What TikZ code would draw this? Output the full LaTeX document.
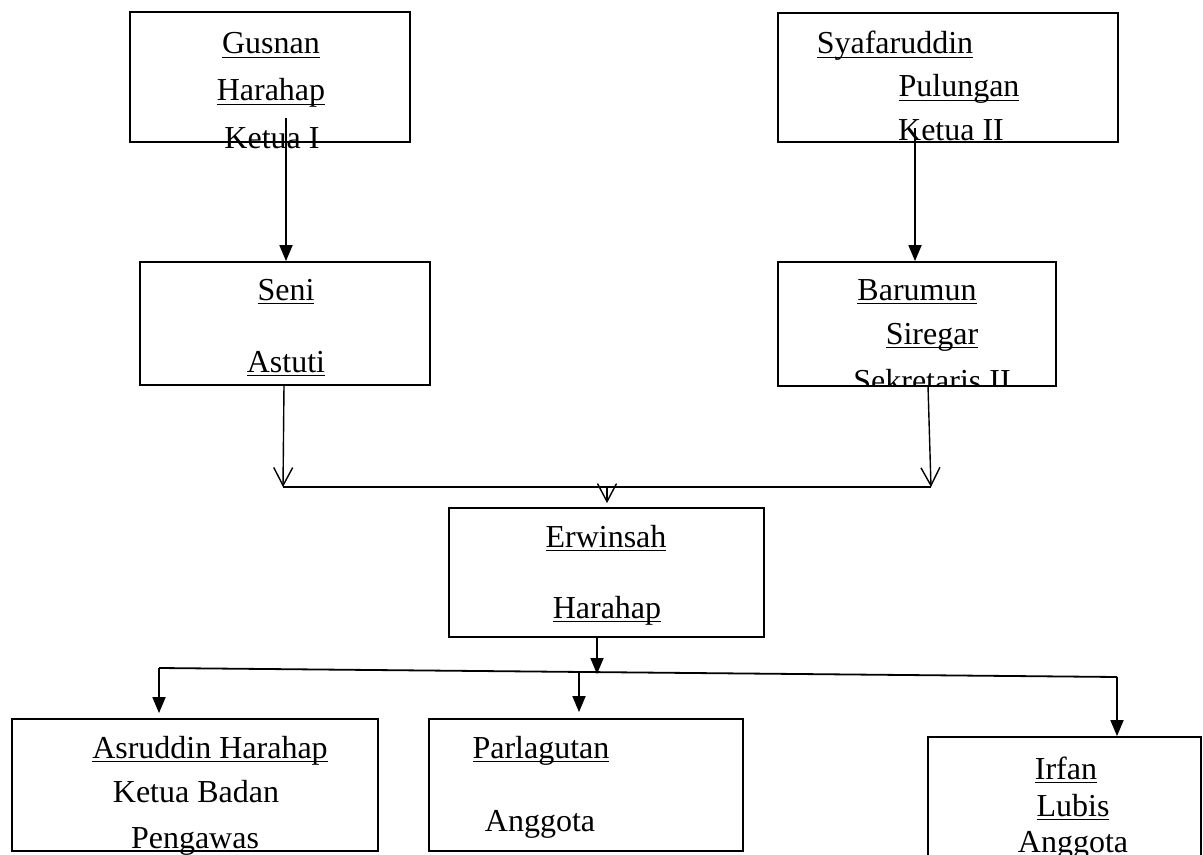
\documentclass[tikz,border=0pt]{standalone}
\usepackage{fontspec}
\setmainfont{Liberation Serif}
\usepackage{tikz}
\usetikzlibrary{arrows.meta}

\newsavebox\ulbox
\newcommand{\uln}[1]{\sbox\ulbox{#1}\rlap{\rule[-2.2pt]{\wd\ulbox}{0.9pt}}\usebox\ulbox}

\tikzset{
	box/.style={draw, line width=0.9pt, inner sep=0pt},
	lbl/.style={inner sep=0pt, anchor=base, font=\fontsize{16}{19}\selectfont},
	fillarr/.style={line width=0.9pt, -{Triangle[length=8pt,width=6.5pt]}},
	openarr/.style={line width=0.7pt, -{Straight Barb[length=9pt,width=9.5pt]}},
	link/.style={line width=0.9pt}
}

\begin{document}
\begin{tikzpicture}[x=0.5pt,y=-0.5pt]
		\useasboundingbox (0,0) rectangle (1203,855);

		\draw (270,77) node[box, minimum width=140pt, minimum height=65pt] (k1) {}
		(948,77.5) node[box, minimum width=170pt, minimum height=64.5pt] (k2) {}
		(285,323.5) node[box, minimum width=145pt, minimum height=61.5pt] (s1) {}
		(917,324) node[box, minimum width=139pt, minimum height=62pt] (s2) {}
		(606.5,572.5) node[box, minimum width=157.5pt, minimum height=64.5pt] (e1) {}
		(195,785) node[box, minimum width=183pt, minimum height=66pt] (a1) {}
		(586,785) node[box, minimum width=157pt, minimum height=66pt] (a2) {}
		(1064.5,806) node[box, minimum width=136.5pt, minimum height=69pt] (a3) {};

		\draw (271,54) node[lbl] (k1a) {\uln{Gusnan}}
		(271,101) node[lbl] (k1b) {\uln{Harahap}}
		(272,149) node[lbl] (k1c) {Ketua I}
		(895,54) node[lbl] (k2a) {\uln{Syafaruddin}}
		(959,97) node[lbl] (k2b) {\uln{Pulungan}}
		(951,141) node[lbl] (k2c) {Ketua II}
		(286,300) node[lbl] (s1a) {\uln{Seni}}
		(286,372) node[lbl] (s1b) {\uln{Astuti}}
		(917,300) node[lbl] (s2a) {\uln{Barumun}}
		(932,344) node[lbl] (s2b) {\uln{Siregar}}
		(606,547) node[lbl] (e1a) {\uln{Erwinsah}}
		(607,618) node[lbl] (e1b) {\uln{Harahap}}
		(210,758) node[lbl] (a1a) {\uln{Asruddin Harahap}}
		(196,802) node[lbl] (a1b) {Ketua Badan}
		(195,848) node[lbl] (a1c) {Pengawas}
		(541,758) node[lbl] (a2a) {\uln{Parlagutan}}
		(540,831) node[lbl] (a2b) {Anggota}
		(1066,779) node[lbl] (a3a) {\uln{Irfan}}
		(1073,816) node[lbl] (a3b) {\uln{Lubis}}
		(1073,852) node[lbl] (a3c) {Anggota};

		% text cut off by the box
		\begin{scope}
			\clip (s2.south west) rectangle (s2.north east);
			\node[lbl] (s2c) at (932,391) {Sekretaris II};
		\end{scope}

		\coordinate (k1o) at (286,118);
		\coordinate (k2o) at (915,128);
		\coordinate (s1o) at (284,385);
		\coordinate (s2o) at (928,386);
		\coordinate (jl) at (283,487);
		\coordinate (jr) at (931,487);
		\coordinate (jm) at (607,487);
		\coordinate (e1o) at (597,637);
		\coordinate (e1i) at (597,674);
		\coordinate (bl) at (159,668);
		\coordinate (bm) at (579,672);
		\coordinate (br) at (1117,677);

		\draw[fillarr] (k1o) -- (k1o |- s1.north);
		\draw[fillarr] (k2o) -- (k2o |- s2.north);
		\draw[openarr] (s1o) -- (jl);
		\draw[openarr] (s2o) -- (jr);
		\draw[link] (jl) -- (jr);
		\draw[openarr] (jm) -- ([yshift=2pt]jm |- e1.north);
		\draw[fillarr] (e1o) -- (e1i);
		\draw[link] (bl) -- (br);
		\draw[fillarr, shorten >=2.5pt] (bl) -- (bl |- a1.north);
		\draw[fillarr, shorten >=3pt] (bm) -- (bm |- a2.north);
		\draw[fillarr] (br) -- (br |- a3.north);
	\end{tikzpicture}
\end{document}
